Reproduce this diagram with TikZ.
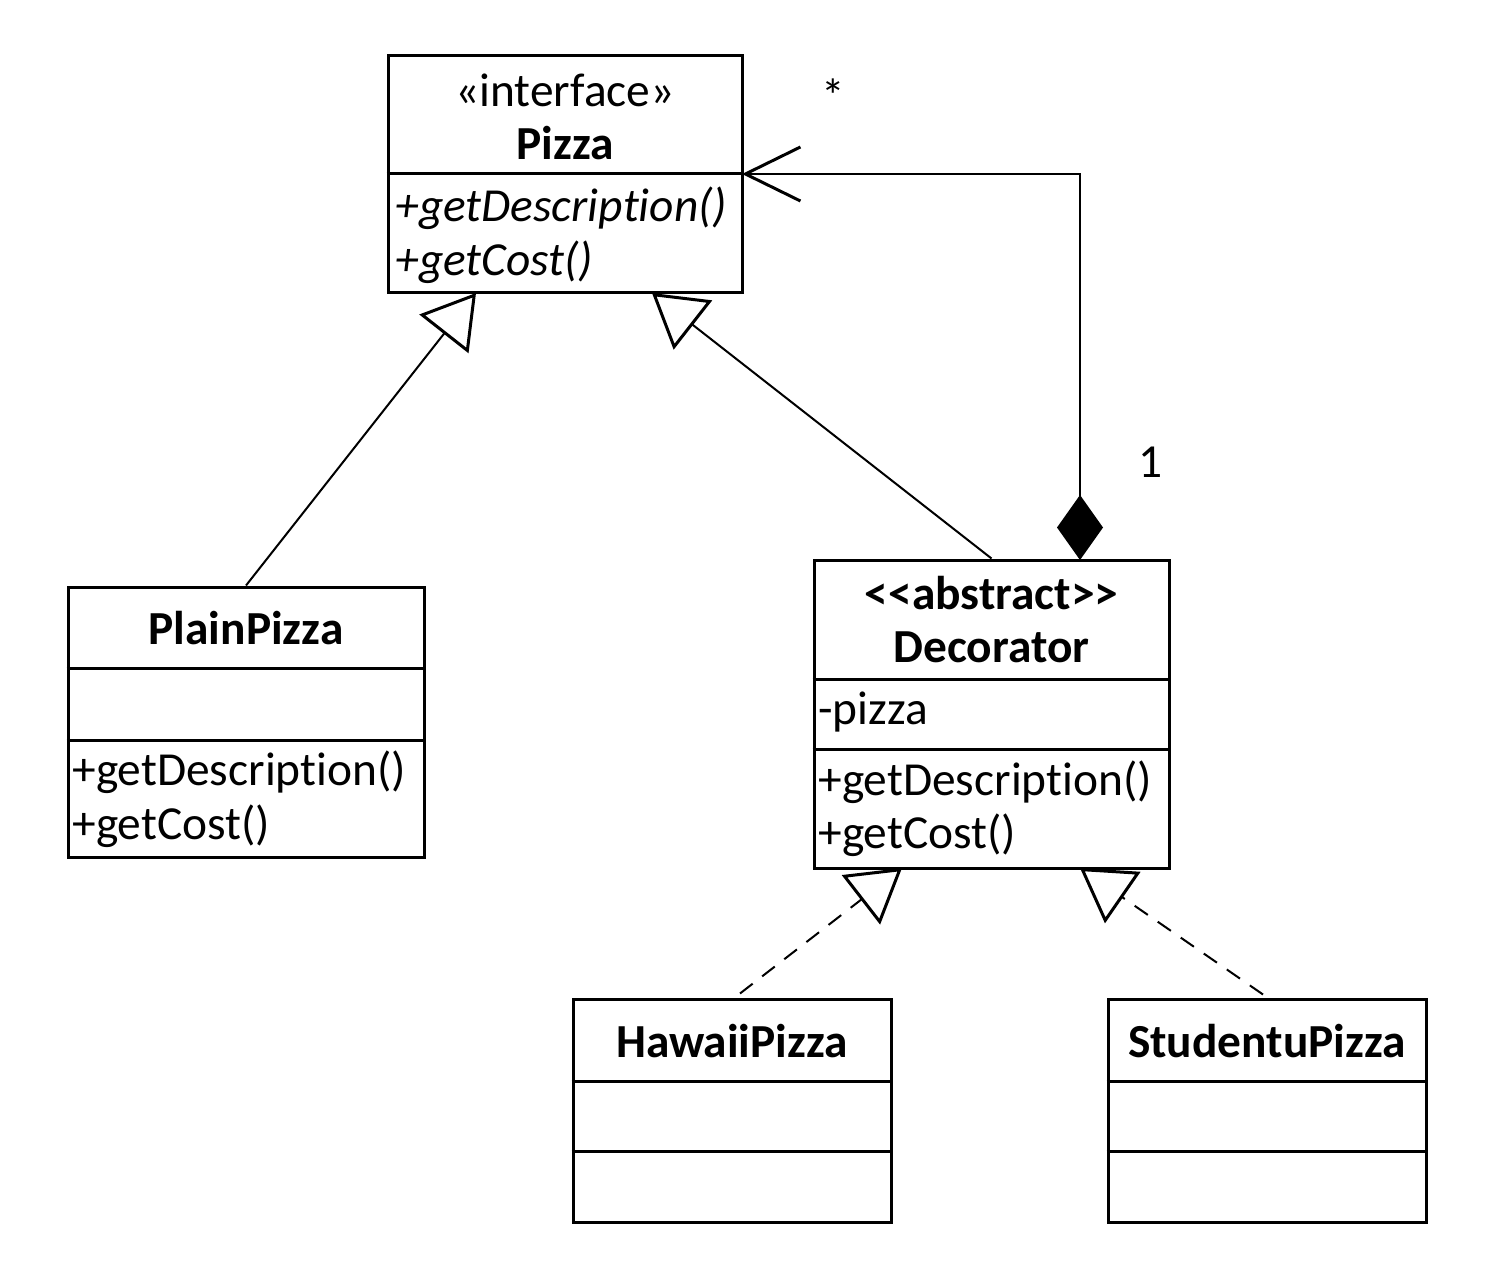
\documentclass[tikz,border=0pt]{standalone}
\usepackage{fontspec}
\setmainfont{Carlito}[Ligatures={NoCommon,NoContextual,NoRare}]
\usetikzlibrary{arrows.meta}
\newcommand{\gdesc}{+getDescrip\kern0pt tion()}
\begin{document}
\begin{tikzpicture}[x=0.5pt,y=-0.5pt,
  box/.style={draw, line width=1.5pt, inner sep=0pt},
  txt/.style={inner sep=0pt, font=\fontsize{23.7}{27}\selectfont},
  bld/.style={txt, font=\fontsize{23.7}{27}\selectfont\bfseries},
  conn/.style={line width=1pt},
  gen/.style={conn, -{Triangle[open, fill=white, length=26pt, width=31pt, line width=1.5pt]}},
  real/.style={gen, dash pattern=on 8pt off 6pt},
  div/.style={line width=1.5pt}]
\useasboundingbox (0,0) rectangle (1508,1288);
% boxes
\node[box, minimum width=177pt, minimum height=118.5pt] (pizza) at (565,174.5) {};
\node[box, minimum width=178pt, minimum height=135pt] (plain) at (246,722) {};
\node[box, minimum width=177.5pt, minimum height=154pt] (deco) at (991.5,714) {};
\node[box, minimum width=159pt, minimum height=111.5pt] (hawaii) at (732,1110.5) {};
\node[box, minimum width=159pt, minimum height=111.5pt] (stud) at (1267,1110.5) {};
% dividers
\draw[div] (pizza.west |- 0,174) -- (pizza.east |- 0,174);
\draw[div] (plain.west |- 0,668) -- (plain.east |- 0,668);
\draw[div] (plain.west |- 0,740) -- (plain.east |- 0,740);
\draw[div] (deco.west |- 0,679) -- (deco.east |- 0,679);
\draw[div] (deco.west |- 0,749) -- (deco.east |- 0,749);
\draw[div] (hawaii.west |- 0,1081) -- (hawaii.east |- 0,1081);
\draw[div] (hawaii.west |- 0,1151) -- (hawaii.east |- 0,1151);
\draw[div] (stud.west |- 0,1081) -- (stud.east |- 0,1081);
\draw[div] (stud.west |- 0,1151) -- (stud.east |- 0,1151);
% texts
\node[txt] (t1) at (565,90) {«interface»};
\node[bld] (t2) at (565,143) {Pizza};
\node[txt, anchor=west] (t3) at (395,208) {\itshape \gdesc};
\node[txt, anchor=west] (t4) at (395,262) {\itshape +getCost()};
\node[bld] (t5) at (246,628) {PlainPizza};
\node[txt, anchor=west] (t6) at (72,772) {\gdesc};
\node[txt, anchor=west] (t7) at (72,826) {+getCost()};
\node[bld] (t8) at (991.5,593) {<\kern0pt<abstract>\kern0pt>};
\node[bld] (t9) at (991.5,647) {Decorator};
\node[txt, anchor=west] (t10) at (818,712) {-pizza};
\node[txt, anchor=west] (t11) at (818,782) {\gdesc};
\node[txt, anchor=west] (t12) at (818,835) {+getCost()};
\node[bld] (t13) at (732,1041) {HawaiiPizza};
\node[bld] (t14) at (1267,1041) {StudentuPizza};
\node[txt] (star) at (833,96) {*};
\node[txt] (one) at (1150,462) {1};
% connectors
\coordinate (pa) at (476,293);
\coordinate (pb) at (652,293);
\coordinate (da) at (902,868);
\coordinate (db) at (1080,868);
\coordinate (dtop) at (1080,560);
\coordinate (corner) at (1080,174);
\coordinate (pr) at (742,174);
\draw[gen] (plain.north) -- (pa);
\draw[gen] (deco.north) -- (pb);
\draw[real] (hawaii.north) ++(8,-4) -- (da);
\draw[real] (stud.north) ++(-4,-3) -- (db);
\draw[conn, {Diamond[length=32.5pt, width=23pt]}-{Straight Barb[length=27.5pt, width=27pt, line width=1.5pt]}] (dtop) -- (corner) -- (pr);
\end{tikzpicture}
\end{document}
